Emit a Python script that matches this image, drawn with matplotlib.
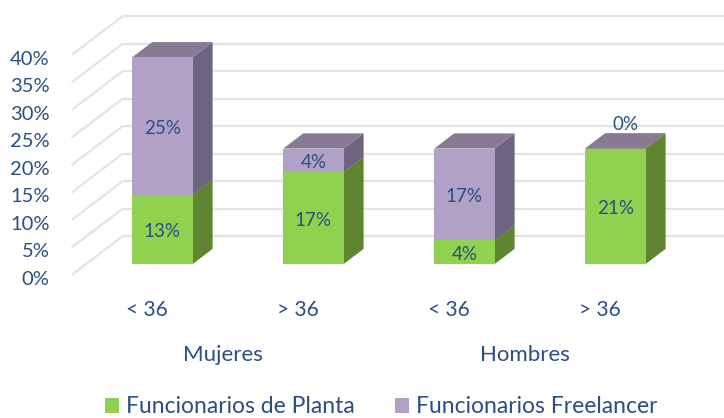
#!/usr/bin/env python3
"""Stacked 3D-look column chart, drawn with oblique projection on a 2D axes."""
import matplotlib
matplotlib.use('Agg')
import matplotlib.pyplot as plt
from matplotlib.patches import Polygon, Patch
from matplotlib.transforms import ScaledTranslation

plt.rcParams['font.family'] = ['Lato', 'DejaVu Sans']

categories = ['< 36', '> 36', '< 36', '> 36']
groups = ['Mujeres', 'Hombres']
planta = [12.6, 16.7, 4.3, 21.0]
freelancer = [25.0, 4.3, 16.7, 0.0]
planta_labels = ['13%', '17%', '4%', '21%']
freelancer_labels = ['25%', '4%', '17%', '0%']
yticks = [0, 5, 10, 15, 20, 25, 30, 35, 40]

TEXT = '#2b4f82'
GRID = '#e3e3e3'
GREEN = ('#90d14f', '#5f8531', '#6f9a3a')
PURPLE = ('#b2a1c7', '#6f6480', '#877a93')

# depth of the chart box, in data units (category widths / percent points)
DX = 0.34
DY = 7.09
BAR_W = 0.40
BAR_SHIFT = 0.006
D0, D1 = 0.28, 0.67  # bar front and back as a fraction of the depth


def proj(x, y, d):
    return (x + DX * d, y + DY * d)


fig = plt.figure(figsize=(7.24, 4.18), dpi=100)
ax = fig.add_axes([71.6 / 724, 1 - 275 / 418, 604 / 724, 220 / 418])
ax.set_xlim(-0.5, 3.5)
ax.set_ylim(0, 40)
for s in ax.spines.values():
    s.set_visible(False)
ax.patch.set_visible(False)

# gridlines: side wall and back wall
for t in yticks:
    ax.plot(*zip(proj(-0.5, t, 0), proj(-0.5, t, 1)), color=GRID, lw=1.6,
            clip_on=False, zorder=1, solid_capstyle='butt')
    ax.plot(*zip(proj(-0.5, t, 1), proj(3.5, t, 1)), color=GRID, lw=1.6,
            clip_on=False, zorder=1, solid_capstyle='butt')


def box(x, y0, y1, cols, z):
    l, r = x - BAR_W / 2 + BAR_SHIFT, x + BAR_W / 2 + BAR_SHIFT
    # side
    ax.add_patch(Polygon([proj(r, y0, D0), proj(r, y0, D1), proj(r, y1, D1), proj(r, y1, D0)],
                         fc=cols[1], ec='none', clip_on=False, zorder=z))
    # top
    ax.add_patch(Polygon([proj(l, y1, D0), proj(r, y1, D0), proj(r, y1, D1), proj(l, y1, D1)],
                         fc=cols[2], ec='none', clip_on=False, zorder=z))
    # front
    ax.add_patch(Polygon([proj(l, y0, D0), proj(r, y0, D0), proj(r, y1, D0), proj(l, y1, D0)],
                         fc=cols[0], ec='none', clip_on=False, zorder=z))


for i in range(len(categories)):
    box(i, 0, planta[i], GREEN, 3)
    box(i, planta[i], planta[i] + freelancer[i], PURPLE, 4)

    cx, cy = proj(i + BAR_SHIFT, planta[i] / 2, D0)
    ax.annotate(planta_labels[i], (cx, cy), xytext=(0, -1.5), textcoords='offset points',
                ha='center', va='center', color=TEXT, fontsize=13.5, zorder=6)
    if freelancer[i] > 0:
        cx, cy = proj(i + BAR_SHIFT, planta[i] + freelancer[i] / 2, D0)
        ax.annotate(freelancer_labels[i], (cx, cy), xytext=(0, -1.5), textcoords='offset points',
                    ha='center', va='center', color=TEXT, fontsize=13.5, zorder=6)
    else:
        # zero slice: label sits above the middle of the top face
        cx, cy = proj(i + BAR_SHIFT, planta[i], (D0 + D1) / 2)
        ax.annotate(freelancer_labels[i], (cx, cy), xytext=(0, 12), textcoords='offset points',
                    ha='center', va='center', color=TEXT, fontsize=13.5, zorder=6)

ax.set_yticks(yticks)
ax.set_yticklabels([f'{t}%' for t in yticks], fontsize=14.5, color=TEXT)
ax.set_xticks(range(len(categories)))
ax.set_xticklabels(categories, fontsize=15, color=TEXT)
ax.tick_params(axis='both', length=0)
ax.tick_params(axis='y', pad=16)
ax.tick_params(axis='x', pad=18)
nudge = ScaledTranslation(0, -2 / 72, fig.dpi_scale_trans)
for lab in ax.get_yticklabels():
    lab.set_transform(lab.get_transform() + nudge)

# group labels under the category labels
trans = ax.get_xaxis_transform()
for k, g in enumerate(groups):
    ax.annotate(g, ((2 * k + 0.5), 0), xycoords=trans, xytext=(0, -70), textcoords='offset pixels',
                ha='center', va='top', color=TEXT, fontsize=16)

handles = [Patch(fc=GREEN[0], ec='none', label='Funcionarios de Planta'),
           Patch(fc=PURPLE[0], ec='none', label='Funcionarios Freelancer')]
fig.legend(handles=handles, loc='lower center', bbox_to_anchor=(0.5265, -0.048), ncol=2, frameon=False,
           fontsize=16.5, labelcolor=TEXT, handlelength=0.62, handleheight=0.62,
           handletextpad=0.3, columnspacing=1.75)

fig.savefig('out.png', dpi=100)
